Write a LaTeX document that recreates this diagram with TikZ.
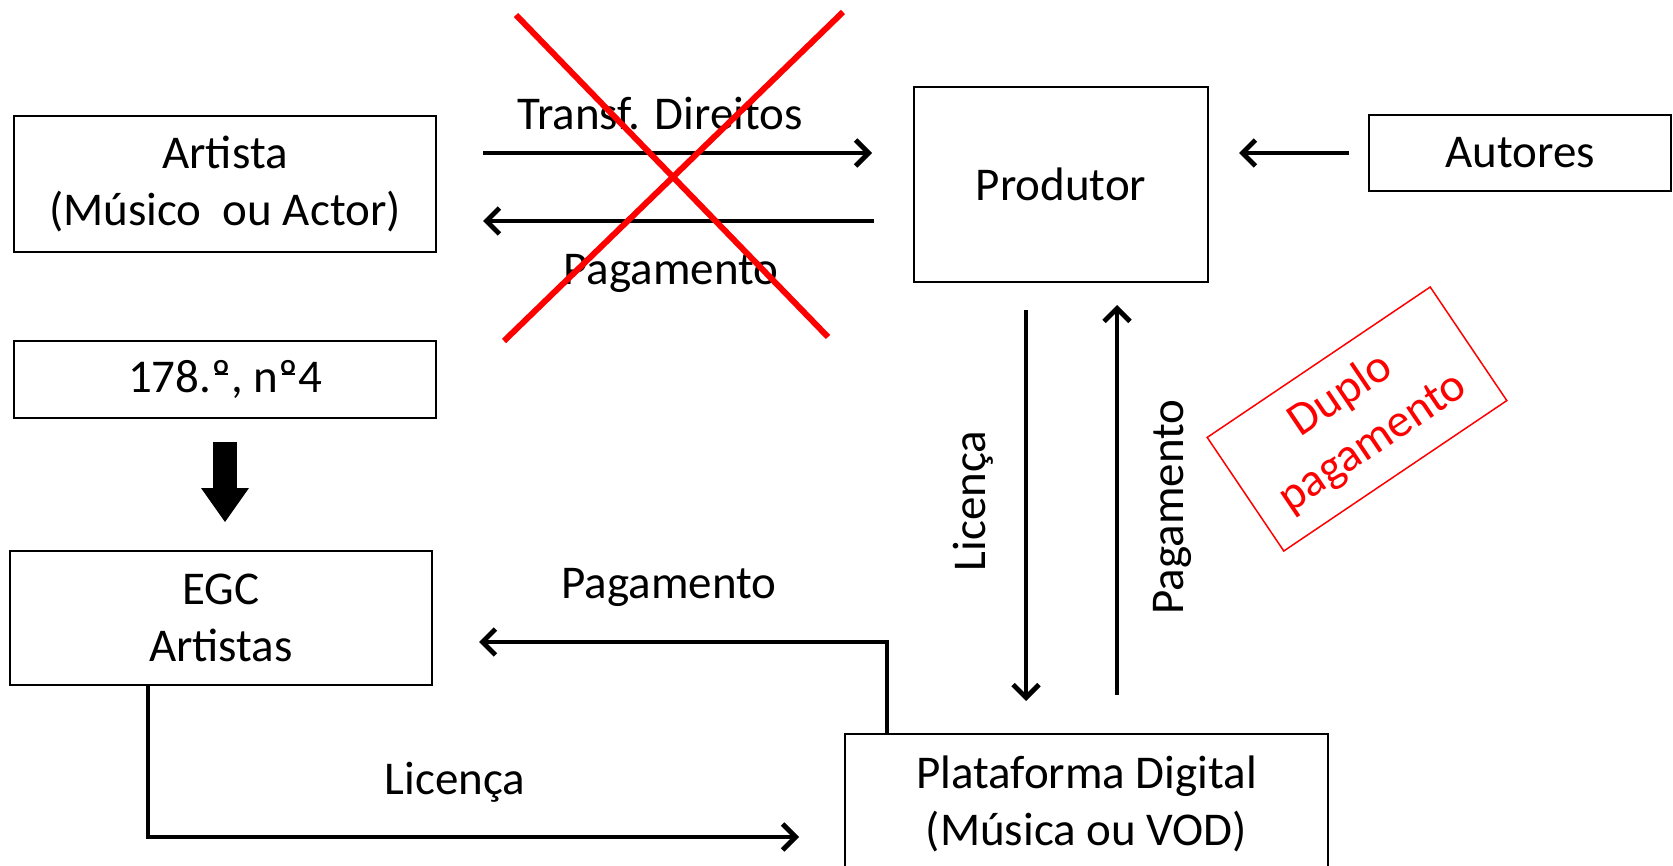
\documentclass[tikz,border=0pt]{standalone}
\usepackage{fontspec}
\setmainfont{Carlito}
\usetikzlibrary{arrows.meta}
% ordinal indicator with its short bar beneath, as in Calibri
\newcommand\ordbar{\ooalign{º\cr\hidewidth\raisebox{.37em}{\rule{.27em}{.045em}}\hidewidth\cr}}
\begin{document}
\begin{tikzpicture}[x=1pt,y=-1pt,
  txt/.style={font=\fontsize{47}{57}\selectfont},
  box/.style={txt, draw, line width=2pt, inner sep=0pt, align=center},
  lbl/.style={txt, inner sep=0pt, anchor=center},
  arr/.style={line width=4.8pt, -{Straight Barb[length=13pt,width=26pt]}},
  blockarr/.style={line width=24pt, -{Triangle[length=34pt,width=48pt,line width=0pt]}},
  redx/.style={draw=red, line width=6pt},
  note/.style={txt, draw=red, text=red, line width=1.5pt, align=center, inner sep=0pt}]
\useasboundingbox (0,0) rectangle (1673,866);
\clip (0,0) rectangle (1673,866);

% boxes
\node[box, minimum width=422pt, minimum height=136pt] (artista) at (225,184) {Artista\\(Músico~ ou Actor)};
\node[box, minimum width=422pt, minimum height=77pt] (art) at (225,379.5) {178.\ordbar, n\ordbar4};
\node[box, minimum width=422pt, minimum height=134pt] (egc) at (221,618) {EGC\\Artistas};
\node[box, minimum width=294pt, minimum height=195pt] (produtor) at (1061,184.5) {Produtor};
\node[box, minimum width=302pt, minimum height=76pt] (autores) at (1520,153) {Autores};
\node[box, minimum width=483pt, minimum height=140pt] (plat) at (1086.5,804) {Plataforma Digital\\(Música ou VOD)};
\node[note, rotate=34, minimum width=269pt, minimum height=137pt] (duplo) at (1357,419) {Duplo\\pagamento};

% artist <-> producer
\draw[arr] ([shift={(46,-31)}]artista.east) -- ([shift={(-41,-31.5)}]produtor.west);
\draw[arr] ([shift={(-39,36.5)}]produtor.west) -- ([shift={(46,37)}]artista.east);
\node[lbl] (ltransf) at (660,114) {Transf. Direitos};
\node[lbl] (lpag1) at (671,273) {Pagamento};

% authors -> producer
\draw[arr] ([xshift=-19pt]autores.west) -- ([shift={(30,-31.5)}]produtor.east);

% producer <-> platform
\draw[arr] ([shift={(-35,27)}]produtor.south) -- ([shift={(-60.5,-32)}]plat.north);
\draw[arr] ([shift={(30.5,-38)}]plat.north) -- ([shift={(56,22)}]produtor.south);
\node[lbl, rotate=90] (llic1) at (973,501) {Licença};
\node[lbl, rotate=90] (lpag2) at (1172,507) {Pagamento};

% article -> collective management
\draw[blockarr, shorten <=23pt, shorten >=28pt] (art.south) -- (art.south |- egc.north);

% collective management <-> platform
\draw[arr] ([xshift=43pt]plat.north west) |- ([shift={(46,24)}]egc.east);
\node[lbl] (lpag3) at (669,587) {Pagamento};
\draw[arr] ([xshift=139pt]egc.south west) |- ([shift={(-45,33)}]plat.west);
\node[lbl] (llic2) at (455,782) {Licença};

% crossed-out direct deal
\draw[redx] (516,15) -- (828,337);
\draw[redx] (843,12) -- (504,341);
\end{tikzpicture}
\end{document}
